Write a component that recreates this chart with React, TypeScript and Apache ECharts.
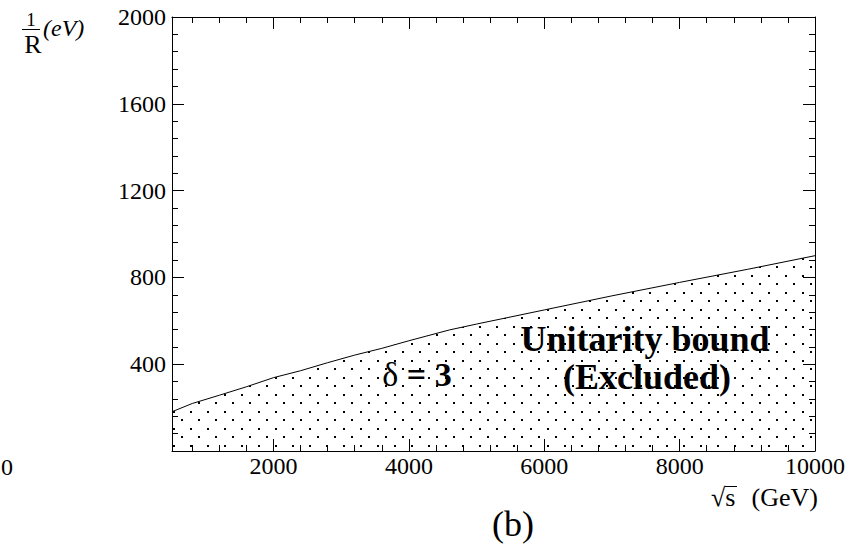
import React, { useEffect, useRef } from "react";
import * as echarts from "echarts";

// sqrt(s) in GeV and the unitarity bound 1/R in eV (delta = 3)
const sqrtS = [500, 800, 1200, 1600, 2000, 2400, 2800, 3200, 3600, 4000, 4600, 5000, 6000, 7000, 8000, 9000, 10000];
const invR = [181, 219, 257, 296, 338, 370, 407, 442, 473, 508, 558, 585, 650, 715, 777, 837, 900];

const xMajorTicks = [2000, 4000, 6000, 8000, 10000];
const xMinorTicks = [800, 1200, 1600, 2400, 2800, 3200, 3600, 4400, 4800, 5200, 5600, 6400, 6800, 7200, 7600, 8400, 8800, 9200, 9600];

const FONT = "Liberation Serif, Times New Roman, serif";

function makeDots(): HTMLCanvasElement {
  const c = document.createElement("canvas");
  c.width = 17;
  c.height = 17;
  const ctx = c.getContext("2d")!;
  ctx.fillStyle = "#000";
  ctx.fillRect(3, 3, 2, 2);
  ctx.fillRect(11, 11, 2, 2);
  return c;
}

export default function App() {
  const ref = useRef<HTMLDivElement>(null);

  useEffect(() => {
    if (!ref.current) return;
    const chart = echarts.init(ref.current, null, { renderer: "svg" });
    const black = "#000";
    const dots = makeDots();
    const plain = (v: number) => String(v);

    const xAxisBase = (position: "bottom" | "top", major: boolean, labels: boolean) => ({
      type: "value",
      position,
      min: 500,
      max: 10000,
      axisLine: { show: major, lineStyle: { color: black, width: 1 } },
      axisTick: {
        show: true,
        inside: true,
        length: major ? 12 : 6,
        customValues: major ? xMajorTicks : xMinorTicks,
        lineStyle: { color: black, width: 1 },
      },
      axisLabel: labels
        ? { show: true, customValues: xMajorTicks, formatter: plain, margin: 3, fontSize: 24, fontFamily: FONT, color: black }
        : { show: false },
      splitLine: { show: false },
    });

    const yAxisBase = (position: "left" | "right", labels: boolean) => ({
      type: "value",
      position,
      min: 0,
      max: 2000,
      interval: 400,
      axisLine: { show: true, lineStyle: { color: black, width: 1 } },
      axisTick: { show: true, inside: true, length: 12, lineStyle: { color: black, width: 1 } },
      minorTick: { show: true, splitNumber: 5, length: 6, lineStyle: { color: black, width: 1 } },
      axisLabel: labels
        ? { show: true, showMinLabel: false, formatter: plain, margin: 6, fontSize: 24, fontFamily: FONT, color: black }
        : { show: false },
      splitLine: { show: false },
      minorSplitLine: { show: false },
    });

    const option: any = {
      animation: false,
      backgroundColor: "#fff",
      grid: { left: 172, right: 48, top: 17, bottom: 94, outerBoundsMode: "none", containLabel: false },
      xAxis: [
        xAxisBase("bottom", true, true),
        xAxisBase("bottom", false, false),
        xAxisBase("top", true, false),
        xAxisBase("top", false, false),
      ],
      yAxis: [yAxisBase("left", true), yAxisBase("right", false)],
      series: [
        {
          type: "line",
          xAxisIndex: 0,
          yAxisIndex: 0,
          data: sqrtS.map((x, i) => [x, invR[i]]),
          symbol: "none",
          silent: true,
          lineStyle: { color: black, width: 1 },
          areaStyle: {
            opacity: 1,
            origin: "start",
            color: { image: dots, repeat: "repeat", imageWidth: 17, imageHeight: 17 },
          },
        },
      ],
      graphic: [
        { type: "text", x: 31, y: 19, style: { text: "1", fontSize: 19, fontFamily: FONT, fill: black, textAlign: "center", textVerticalAlign: "middle" } },
        { type: "line", shape: { x1: 22, y1: 29.5, x2: 40, y2: 29.5 }, style: { stroke: black, lineWidth: 1 } },
        { type: "text", x: 33, y: 44, style: { text: "R", fontSize: 26, fontFamily: FONT, fill: black, textAlign: "center", textVerticalAlign: "middle" } },
        { type: "text", x: 43, y: 28, style: { text: "(eV)", fontSize: 24, fontStyle: "italic", fontFamily: FONT, fill: black, textAlign: "left", textVerticalAlign: "middle" } },
        { type: "text", x: 1, y: 467, style: { text: "0", fontSize: 24, fontFamily: FONT, fill: black, textAlign: "left", textVerticalAlign: "middle" } },
        { type: "text", x: 711, y: 497, style: { text: "√s", fontSize: 26, fontFamily: FONT, fill: black, textAlign: "left", textVerticalAlign: "middle" } },
        { type: "line", shape: { x1: 725, y1: 486.5, x2: 737, y2: 486.5 }, style: { stroke: black, lineWidth: 1 } },
        { type: "text", x: 818, y: 497, style: { text: "(GeV)", fontSize: 26, fontFamily: FONT, fill: black, textAlign: "right", textVerticalAlign: "middle" } },
        { type: "text", x: 513, y: 524, style: { text: "(b)", fontSize: 36, fontFamily: FONT, fill: black, textAlign: "center", textVerticalAlign: "middle" } },
        {
          type: "text",
          x: 417,
          y: 374,
          style: {
            text: "{d|δ} {b|= 3}",
            textAlign: "center",
            textVerticalAlign: "middle",
            rich: {
              d: { fontSize: 34, fontFamily: FONT, fill: black },
              b: { fontSize: 34, fontFamily: FONT, fontWeight: "bold", fill: black },
            },
            fontSize: 34,
            fontFamily: FONT,
            fill: black,
          },
        },
        { type: "text", x: 645, y: 339, style: { text: "Unitarity bound", fontSize: 36, fontWeight: "bold", fontFamily: FONT, fill: black, textAlign: "center", textVerticalAlign: "middle" } },
        { type: "text", x: 647, y: 377, style: { text: "(Excluded)", fontSize: 36, fontWeight: "bold", fontFamily: FONT, fill: black, textAlign: "center", textVerticalAlign: "middle" } },
      ],
    };

    chart.setOption(option);
    return () => chart.dispose();
  }, []);

  return (
    <div
      ref={ref}
      style={{ position: "fixed", left: 0, top: 0, width: 863, height: 545, background: "#fff" }}
    />
  );
}
